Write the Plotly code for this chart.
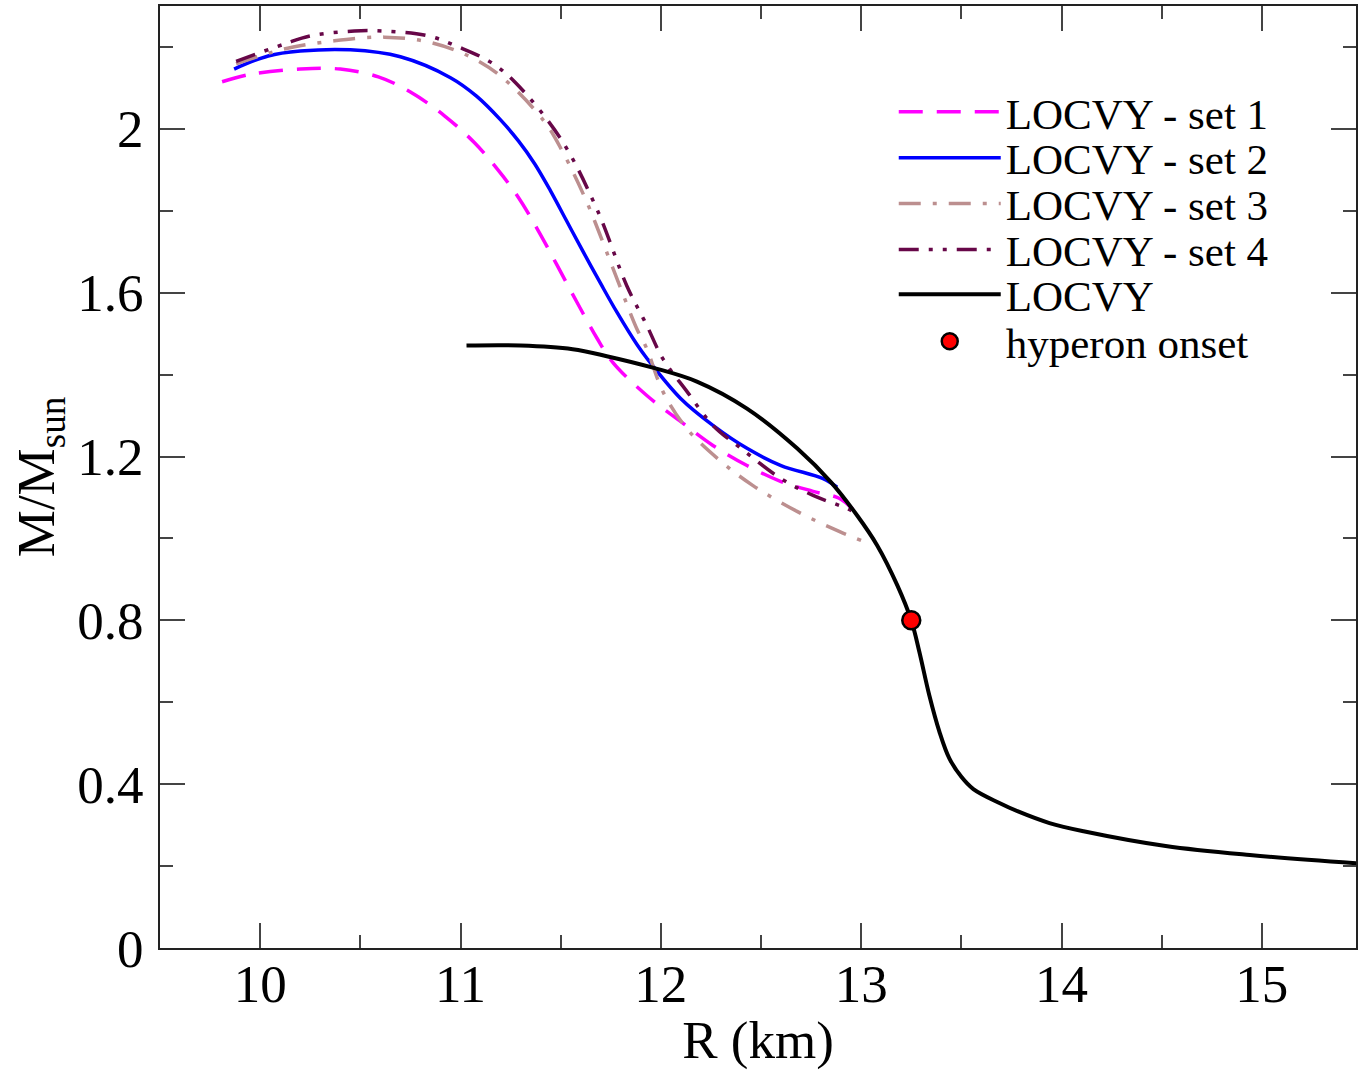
import plotly.graph_objects as go

# ---------------- data ----------------
set1_R = [9.81, 9.96, 10.20, 10.40, 10.59, 10.75, 10.92, 11.07, 11.19, 11.29, 11.39, 11.48,
          11.58, 11.68, 11.76, 11.93, 12.10, 12.26, 12.43, 12.60, 12.76, 12.89, 12.96]
set1_M = [2.115, 2.134, 2.146, 2.146, 2.127, 2.090, 2.032, 1.966, 1.898, 1.832, 1.750, 1.669,
          1.578, 1.490, 1.430, 1.349, 1.285, 1.227, 1.178, 1.139, 1.115, 1.098, 1.070]

set2_R = [9.87, 10.04, 10.20, 10.45, 10.70, 10.95, 11.08, 11.20, 11.29, 11.37, 11.45, 11.53,
          11.61, 11.70, 11.78, 11.88, 11.93, 12.10, 12.26, 12.43, 12.60, 12.81, 12.88]
set2_M = [2.146, 2.178, 2.190, 2.193, 2.176, 2.125, 2.080, 2.022, 1.970, 1.915, 1.848, 1.775,
          1.702, 1.622, 1.553, 1.474, 1.440, 1.341, 1.276, 1.220, 1.178, 1.146, 1.125]

set3_R = [9.88, 10.12, 10.37, 10.62, 10.84, 11.04, 11.20, 11.42, 11.51, 11.63, 11.71, 11.80,
          11.88, 11.93, 12.01, 12.13, 12.30, 12.46, 12.68, 12.89, 13.00]
set3_M = [2.159, 2.195, 2.215, 2.224, 2.212, 2.178, 2.129, 2.017, 1.944, 1.822, 1.724, 1.610,
          1.512, 1.463, 1.359, 1.268, 1.188, 1.129, 1.066, 1.017, 0.995]

set4_R = [9.88, 10.12, 10.25, 10.47, 10.61, 10.84, 10.99, 11.15, 11.27, 11.50, 11.68, 11.83,
          11.93, 12.01, 12.13, 12.26, 12.40, 12.60, 12.76, 12.93, 12.98]
set4_M = [2.165, 2.207, 2.227, 2.239, 2.239, 2.227, 2.200, 2.163, 2.115, 1.976, 1.805, 1.617,
          1.520, 1.439, 1.359, 1.276, 1.220, 1.146, 1.105, 1.073, 1.060]

locvy_R = [11.03, 11.30, 11.56, 11.73, 11.96, 12.18, 12.43, 12.68, 12.85, 12.98, 13.08, 13.18,
           13.25, 13.29, 13.34, 13.39, 13.44, 13.50, 13.56, 13.69, 13.78, 13.94, 14.11, 14.52,
           14.94, 15.47, 15.60]
locvy_M = [1.471, 1.471, 1.462, 1.445, 1.417, 1.383, 1.317, 1.220, 1.137, 1.056, 0.983, 0.886,
           0.800, 0.724, 0.617, 0.529, 0.463, 0.418, 0.388, 0.354, 0.334, 0.305, 0.285, 0.249,
           0.227, 0.207, 0.203]

onset_R = [13.25]
onset_M = [0.80]

names = ["LOCVY - set 1", "LOCVY - set 2", "LOCVY - set 3", "LOCVY - set 4", "LOCVY", "hyperon onset"]

# ---------------- figure ----------------
FONT = "Liberation Serif, Times New Roman, serif"
fig = go.Figure()

styles = [
    (set1_R, set1_M, "#ff00ff", "24px,14px", 3.5),
    (set2_R, set2_M, "#0000ff", "solid", 3.5),
    (set3_R, set3_M, "#bc8f8f", "22px,12px,4px,12px", 3.5),
    (set4_R, set4_M, "#670748", "20px,10px,4px,10px,4px,10px", 3.5),
    (locvy_R, locvy_M, "#000000", "solid", 4),
]
for i, (R, M, col, dash, w) in enumerate(styles):
    fig.add_trace(go.Scatter(
        x=R, y=M, mode="lines", name=names[i],
        line=dict(color=col, dash=dash, width=w, shape="spline", smoothing=1.0),
        legend="legend" if i == 0 else f"legend{i+1}",
    ))

fig.add_trace(go.Scatter(
    x=onset_R, y=onset_M, mode="markers", name=names[5],
    marker=dict(color="#ff0000", size=18, line=dict(color="black", width=2.5)),
    legend="legend6",
))

# legend rows (one legend per row so spacing matches the reference)
row_px = [112, 158, 204, 250, 295, 342]
plot_top, plot_bot = 6, 950
legends = {}
for i, yp in enumerate(row_px):
    key = "legend" if i == 0 else f"legend{i+1}"
    legends[key] = dict(
        x=0.6135, xanchor="left",
        y=(plot_bot - yp) / (plot_bot - plot_top), yanchor="middle",
        bgcolor="rgba(0,0,0,0)", borderwidth=0,
        font=dict(family=FONT, size=43, color="black"),
        itemwidth=102,
    )

axis_common = dict(
    showgrid=False, zeroline=False,
    showline=True, linewidth=2, linecolor="#222",
    ticks="inside", ticklen=25, tickwidth=2, tickcolor="#444",
    tickfont=dict(family=FONT, size=53, color="black"),
    mirror="ticks",
)

fig.update_layout(
    width=1358, height=1070,
    margin=dict(l=160, r=0, t=6, b=120),
    paper_bgcolor="white", plot_bgcolor="white",
    showlegend=True,
    xaxis=dict(
        range=[9.5, 15.47], tick0=10, dtick=1,
        minor=dict(dtick=0.5, ticks="inside", ticklen=13, tickwidth=2, tickcolor="#444"),
        title=dict(text="R (km)", font=dict(family=FONT, size=53, color="black"), standoff=20),
        ticklabelstandoff=-12,
        **axis_common,
    ),
    yaxis=dict(
        range=[0, 2.3], tick0=0, dtick=0.4,
        minor=dict(dtick=0.2, ticks="inside", ticklen=13, tickwidth=2, tickcolor="#444"),
        title=dict(text="M/M<sub>sun</sub>", font=dict(family=FONT, size=53, color="black"), standoff=6),
        ticklabelstandoff=4,
        **axis_common,
    ),
    **legends,
)

fig.write_html("out.html")
